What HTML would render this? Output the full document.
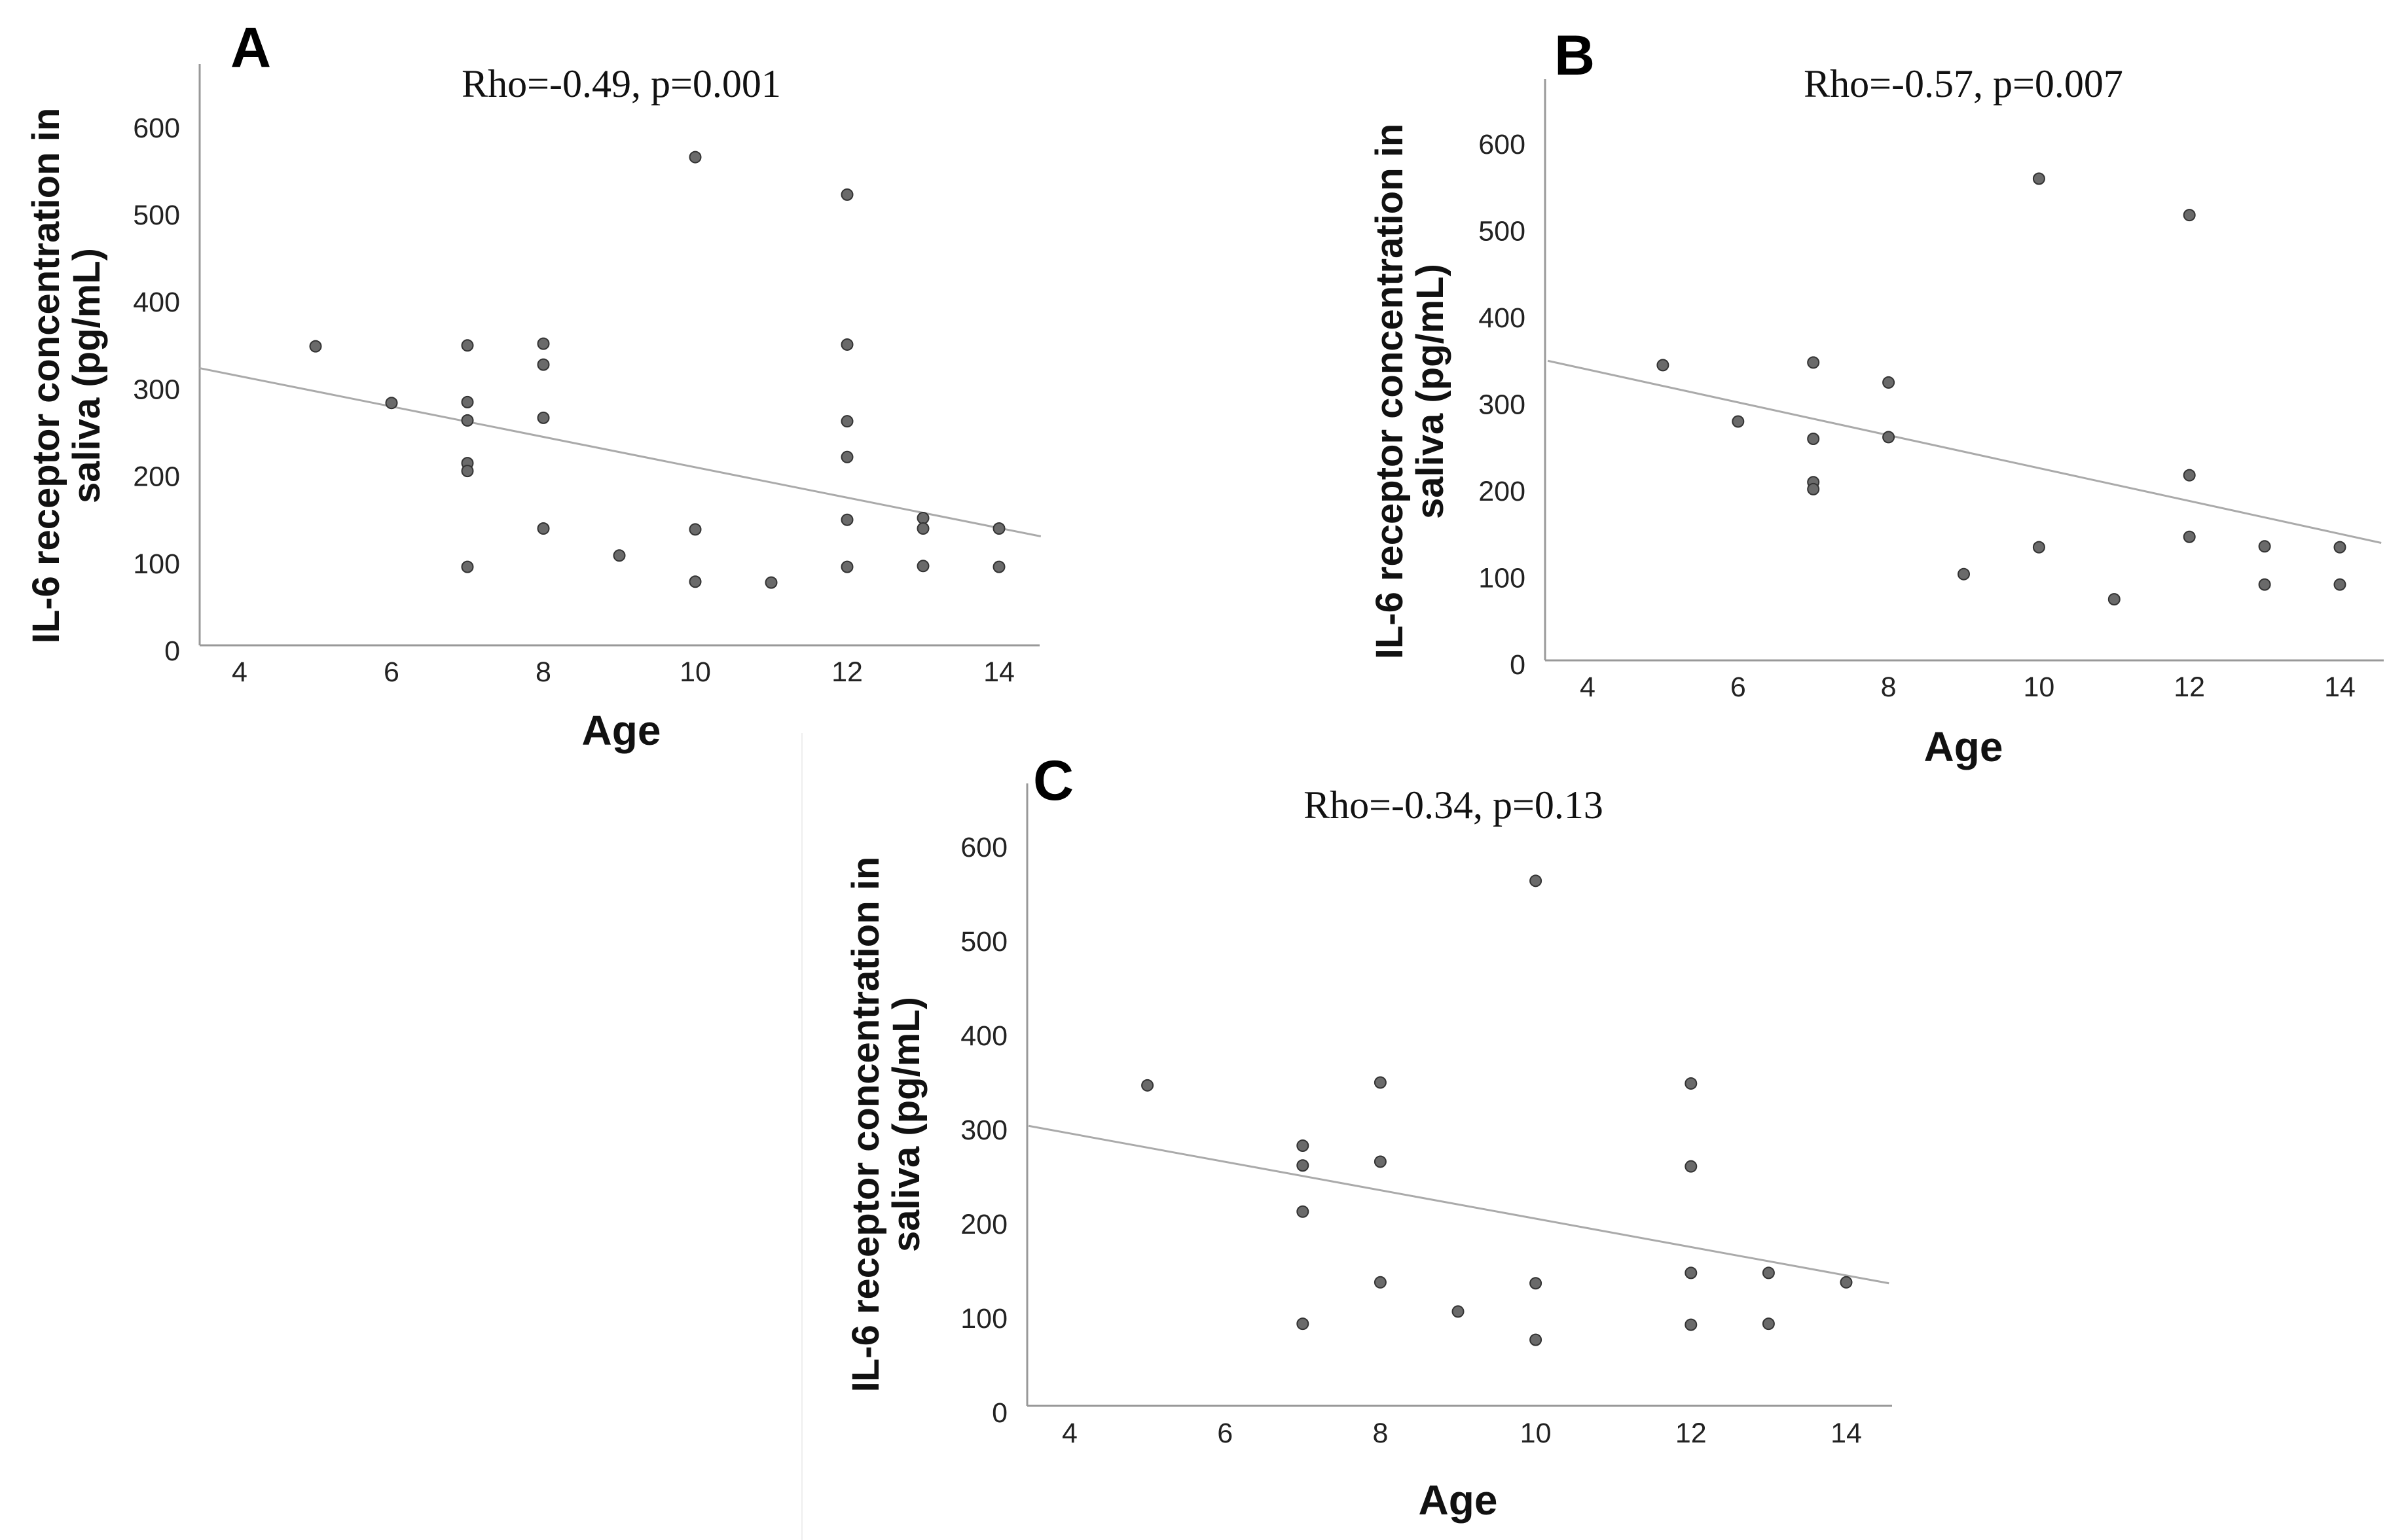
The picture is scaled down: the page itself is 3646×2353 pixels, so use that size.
<!DOCTYPE html>
<html><head><meta charset="utf-8"><style>
html,body{margin:0;padding:0;background:#fff;}
svg{display:block;}
</style></head><body>
<svg id="fig" width="3646" height="2353" viewBox="0 0 3646 2353" xmlns="http://www.w3.org/2000/svg">
<line x1="1225" y1="1120" x2="1225" y2="2353" stroke="#eee" stroke-width="2"/>
</svg>
<script>
const ageTicks = [4, 6, 8, 10, 12, 14];
const valueTicks = [0, 100, 200, 300, 400, 500, 600];
const agesA = [5,6,7,7,7,7,7,7,8,8,8,8,9,10,10,10,11,12,12,12,12,12,12,13,13,13,14,14];
const valuesA = [349,284,350,285,264,215,206,96,352,328,267,140,109,566,139,79,78,523,351,263,222,150,96,152,140,97,140,96];
const fitA = [324, 131];
const agesB = [5,6,7,7,7,7,8,8,9,10,10,11,12,12,12,13,13,14,14];
const valuesB = [345,280,348,260,210,202,325,262,104,560,135,75,518,218,147,136,92,135,92];
const fitB = [350, 140];
const agesC = [5,7,7,7,7,8,8,8,9,10,10,10,12,12,12,12,13,13,14];
const valuesC = [347,283,262,213,94,350,266,138,107,564,137,77,349,261,148,93,148,94,138];
const fitC = [304, 137];
const fitAges = [3.47, 14.55];

const NS = 'http://www.w3.org/2000/svg';
const svg = document.getElementById('fig');
function mk(tag, attrs, parent, text){
  const e = document.createElementNS(NS, tag);
  for (const k in attrs) e.setAttribute(k, attrs[k]);
  if (text !== undefined) e.textContent = text;
  (parent || svg).appendChild(e);
  return e;
}
function panel(p){
  const g = mk('g', {});
  
  
  const xs = a => p.x4 + (a - 4) * p.perYear;
  const ys = v => p.y0 - v * p.perUnit;
  const ya = mk('line', {x1:p.ax, y1:p.top, x2:p.ax, y2:p.axY, stroke:'#999', 'stroke-width':3}, g);
  
  
  const xa = mk('line', {x1:p.ax, y1:p.axY, x2:p.right, y2:p.axY, stroke:'#999', 'stroke-width':3}, g);
  
  
  ageTicks.forEach(t => {
    const e = mk('text', {x:xs(t), y:p.xLabY + 4, 'text-anchor':'middle', 'font-family':'Liberation Sans, sans-serif', 'font-size':43, fill:'#222'}, g, String(t));
    
    
  });
  valueTicks.forEach(t => {
    const e = mk('text', {x:p.ax - 30, y:ys(t) + 15, 'text-anchor':'end', 'font-family':'Liberation Sans, sans-serif', 'font-size':43, fill:'#222'}, g, String(t));
    
    
  });
  const fl = mk('line', {x1:xs(fitAges[0]), y1:ys(p.fit[0]), x2:xs(fitAges[1]), y2:ys(p.fit[1]), stroke:'#aaa', 'stroke-width':3}, g);
  
  
  p.ages.forEach((a, i) => {
    const c = mk('circle', {cx:xs(a), cy:ys(p.vals[i]), r:8.5, fill:'#6a6a6a', stroke:'#333', 'stroke-width':2}, g);
    
    
  });
  const L = mk('text', {x:p.letter[0], y:p.letter[1], 'font-family':'Liberation Sans, sans-serif', 'font-weight':'bold', 'font-size':86, fill:'#000'}, g, p.id);
  
  
  const r = mk('text', {x:p.rho[0], y:p.rho[1], 'text-anchor':'middle', 'font-family':'Liberation Serif, serif', 'font-size':60, fill:'#111'}, g, p.rhoText);
  
  
  const at = mk('text', {x:p.age[0], y:p.age[1], 'text-anchor':'middle', 'font-family':'Liberation Sans, sans-serif', 'font-weight':'bold', 'font-size':64, fill:'#111'}, g, 'Age');
  
  
  const yt = mk('text', {transform:'translate(' + p.yt[0] + ',' + p.yt[1] + ') rotate(-90)', 'text-anchor':'middle', 'font-family':'Liberation Sans, sans-serif', 'font-weight':'bold', 'font-size':58, fill:'#111'}, g);
  
  
  mk('tspan', {x:0, y:0}, yt, 'IL-6 receptor concentration in');
  mk('tspan', {x:0, y:62}, yt, 'saliva (pg/mL)');
}
panel({id:'A', ax:305, axY:986, top:98, right:1588, x4:366, perYear:116, y0:994, perUnit:1.332, xLabY:1037, ages:agesA, vals:valuesA, fit:fitA, letter:[352,102], rho:[949,148], rhoText:'Rho=-0.49, p=0.001', age:[949,1138], yt:[90,574]});
panel({id:'B', ax:2360, axY:1009, top:121, right:3641, x4:2425, perYear:114.9, y0:1015, perUnit:1.325, xLabY:1060, ages:agesB, vals:valuesB, fit:fitB, letter:[2374,114], rho:[2999,148], rhoText:'Rho=-0.57, p=0.007', age:[2999,1163], yt:[2142,598]});
panel({id:'C', ax:1569, axY:2148, top:1197, right:2890, x4:1634, perYear:118.6, y0:2158, perUnit:1.44, xLabY:2200, ages:agesC, vals:valuesC, fit:fitC, letter:[1578,1222], rho:[2220,1250], rhoText:'Rho=-0.34, p=0.13', age:[2227,2314], yt:[1342,1718]});
</script>
</body></html>
